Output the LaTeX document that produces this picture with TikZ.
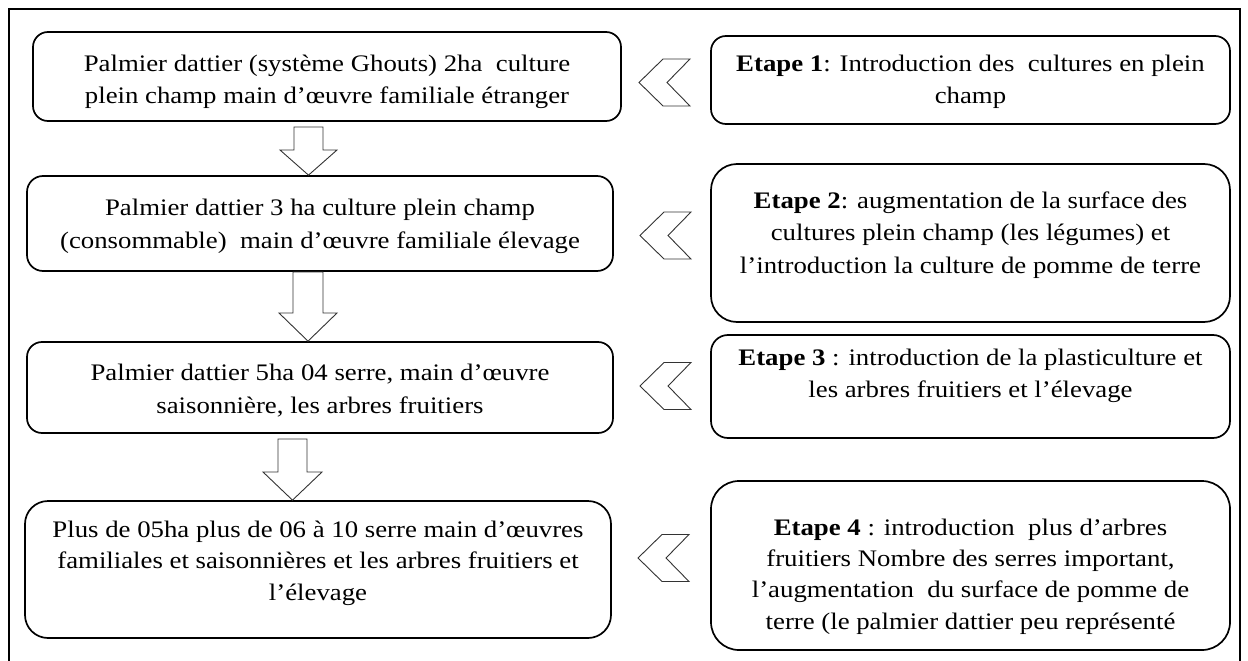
\documentclass[tikz,border=0pt]{standalone}
\usepackage{fontspec}
\setmainfont{Liberation Serif}[FakeStretch=1.13]
\begin{document}
\begin{tikzpicture}[x=1pt,y=-1pt,
  box/.style={draw, line width=1.7pt, rounded corners=#1, inner sep=0pt},
  box/.default=15pt,
  txt/.style={anchor=base, inner sep=0pt, font=\fontsize{23.7}{32}\selectfont},
  blk/.style={draw=black!80, line width=0.9pt, line join=miter, fill=white},
  frame/.style={line width=2.6pt}]
\useasboundingbox (0,0) rectangle (1248,661);

% outer frame, open at the bottom
\draw[frame] (9,662) -- (9,9) -- (1240,9) -- (1240,662);

% left column: farm states
\node[box=15pt, minimum width=588pt, minimum height=89pt] (b1) at (327,76.5) {};
\node[box=16pt, minimum width=586pt, minimum height=95pt] (b2) at (320,223.5) {};
\node[box=15pt, minimum width=586pt, minimum height=91pt] (b3) at (320,387.5) {};
\node[box=23pt, minimum width=586pt, minimum height=137pt] (b4) at (318,569.5) {};

% right column: stages
\node[box=15pt, minimum width=519pt, minimum height=88pt] (e1) at (970.5,80) {};
\node[box=26pt, minimum width=519pt, minimum height=158pt] (e2) at (970.5,243) {};
\node[box=17pt, minimum width=519pt, minimum height=103pt] (e3) at (970.5,386.5) {};
\node[box=28pt, minimum width=519pt, minimum height=169pt] (e4) at (970.5,565.5) {};

% texts of the left column
\node[txt] (b1a) at (327,71) {Palmier dattier (système Ghouts) 2ha~ culture};
\node[txt] (b1b) at (327,103) {plein champ main d’œuvre familiale étranger};
\node[txt] (b2a) at (320,215) {Palmier dattier 3 ha culture plein champ};
\node[txt] (b2b) at (320,248) {(consommable)~ main d’œuvre familiale élevage};
\node[txt] (b3a) at (320,380) {Palmier dattier 5ha 04 serre, main d’œuvre};
\node[txt] (b3b) at (320,413) {saisonnière, les arbres fruitiers};
\node[txt] (b4a) at (318,537) {Plus de 05ha plus de 06 à 10 serre main d’œuvres};
\node[txt] (b4b) at (318,568) {familiales et saisonnières et les arbres fruitiers et};
\node[txt] (b4c) at (318,600) {l’élevage};

% texts of the right column
\node[txt] (e1a) at (970.5,71) {\textbf{Etape 1}: Introduction des~ cultures en plein};
\node[txt] (e1b) at (970.5,103) {champ};
\node[txt] (e2a) at (970.5,208) {\textbf{Etape 2}: augmentation de la surface des};
\node[txt] (e2b) at (970.5,240) {cultures plein champ (les légumes) et};
\node[txt] (e2c) at (970.5,273) {l’introduction la culture de pomme de terre};
\node[txt] (e3a) at (970.5,365) {\textbf{Etape 3} : introduction de la plasticulture et};
\node[txt] (e3b) at (970.5,397) {les arbres fruitiers et l’élevage};
\node[txt] (e4a) at (970.5,535) {\textbf{Etape 4} : introduction~ plus d’arbres};
\node[txt] (e4b) at (970.5,566) {fruitiers Nombre des serres important,};
\node[txt] (e4c) at (970.5,597) {l’augmentation~ du surface de pomme de};
\node[txt] (e4d) at (970.5,629) {terre (le palmier dattier peu représenté};

% block arrows between successive states
\draw[blk] (294,127) -- (323,127) -- (323,150) -- (337,150) -- (308.5,176 |- b2.north) -- (280,150) -- (294,150) -- cycle;
\draw[blk] (293,272) -- (323,272) -- (323,313) -- (337,313) -- (308,342 |- b3.north) -- (279,313) -- (293,313) -- cycle;
\draw[blk] (278,439) -- (307,439) -- (307,472) -- (322,472) -- (292.5,501 |- b4.north) -- (263,472) -- (278,472) -- cycle;

% chevrons pointing from each stage to its state
\foreach \cx/\cy in {639/82.5, 640/235.5, 640/386, 638/558}
  \draw[blk] (\cx,\cy) -- ++(24,-23.5) -- ++(27,0) -- ++(-23,23.5)
    -- ++(23,23.5) -- ++(-27,0) -- cycle;
\end{tikzpicture}
\end{document}
